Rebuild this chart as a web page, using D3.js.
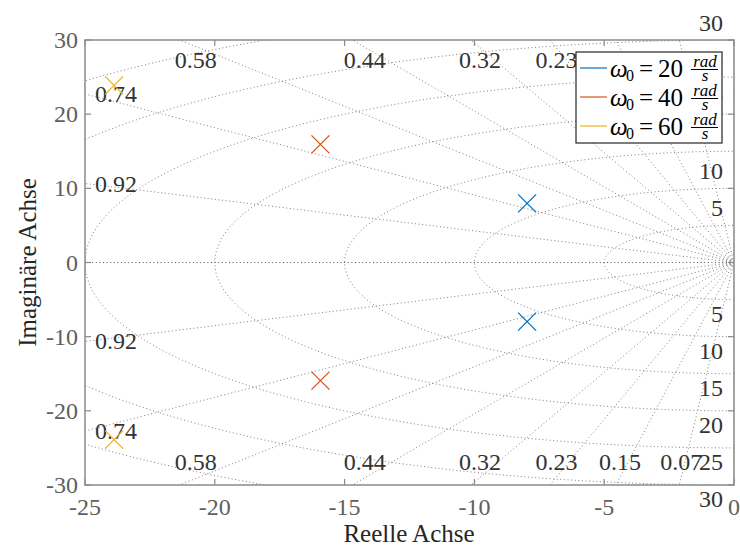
<!DOCTYPE html>
<html><head><meta charset="utf-8">
<script src="https://cdn.jsdelivr.net/npm/d3@7"></script>
<style>
body{margin:0;background:#fff}
svg{display:block}
text{font-family:"Liberation Serif","Times New Roman",serif}
</style>
</head><body>
<svg id="chart" width="740" height="547"></svg>
<script>
// Pole locations for three natural frequencies
const seriesNames = ["20", "40", "60"];
const seriesColors = ["#0072BD", "#D95319", "#EDB120"];
const poleReal = [-7.97, -15.93, -23.88];
const poleImag = [7.97, 15.93, 23.88];

// Axis ticks
const xTicks = [-25, -20, -15, -10, -5, 0];
const yTicks = [-30, -20, -10, 0, 10, 20, 30];

// s-plane grid: damping rays and natural-frequency circles
const zetaValues = [0.07, 0.15, 0.23, 0.32, 0.44, 0.58, 0.74, 0.92];
const zetaLabels = ["0.07", "0.15", "0.23", "0.32", "0.44", "0.58", "0.74", "0.92"];
const wnValues = [5, 10, 15, 20, 25, 30, 35, 40];
const wnLabels = ["5", "10", "15", "20", "25", "30"];

const svg = d3.select("#chart");
const L = 85, R = 734, T = 40, B = 485;
const x = d3.scaleLinear().domain([-25, 0]).range([L, R]);
const y = d3.scaleLinear().domain([-30, 30]).range([B, T]);

svg.append("defs").append("clipPath").attr("id", "plotclip")
  .append("rect").attr("x", L).attr("y", T).attr("width", R - L).attr("height", B - T);

const grid = svg.append("g").attr("clip-path", "url(#plotclip)");
const line = d3.line().x(d => x(d[0])).y(d => y(d[1]));
const dotted = sel => sel.attr("fill", "none").attr("stroke", "#7f7f7f")
  .attr("stroke-width", 1).attr("stroke-dasharray", "1 2.6");

// natural frequency circles (left half plane)
wnValues.forEach(wn => {
  const pts = d3.range(-90, 90.5, 1).map(a => {
    const t = a * Math.PI / 180;
    return [-wn * Math.cos(t), wn * Math.sin(t)];
  });
  grid.append("path").datum(pts).attr("d", line).call(dotted);
});

// constant damping rays
const rayLen = 80;
zetaValues.forEach(z => {
  const s = Math.sqrt(1 - z * z);
  [1, -1].forEach(sg => {
    grid.append("path").datum([[0, 0], [-rayLen * z, sg * rayLen * s]]).attr("d", line).call(dotted);
  });
});
// zeta = 1 (real axis) and zeta = 0 (imaginary axis)
grid.append("path").datum([[0, 0], [-rayLen, 0]]).attr("d", line).call(dotted).attr("stroke", "#555");
grid.append("path").datum([[0, -rayLen], [0, rayLen]]).attr("d", line).call(dotted);

// axes box
const axisColor = "#8a8a8a";
svg.append("rect").attr("x", L).attr("y", T).attr("width", R - L).attr("height", B - T)
  .attr("fill", "none").attr("stroke", axisColor).attr("stroke-width", 1.5);

const tickLen = 6;
const ticks = svg.append("g").attr("stroke", axisColor).attr("stroke-width", 1.2);
xTicks.forEach(v => {
  ticks.append("line").attr("x1", x(v)).attr("x2", x(v)).attr("y1", B).attr("y2", B - tickLen);
  ticks.append("line").attr("x1", x(v)).attr("x2", x(v)).attr("y1", T).attr("y2", T + tickLen);
});
yTicks.forEach(v => {
  ticks.append("line").attr("x1", L).attr("x2", L + tickLen).attr("y1", y(v)).attr("y2", y(v));
  ticks.append("line").attr("x1", R).attr("x2", R - tickLen).attr("y1", y(v)).attr("y2", y(v));
});

const tickColor = "#606060";
svg.append("g").selectAll("text").data(xTicks).join("text")
  .attr("x", d => x(d)).attr("y", B + 22).attr("text-anchor", "middle")
  .attr("dominant-baseline", "central").attr("font-size", 24).attr("fill", tickColor)
  .text(d => d3.format("d")(d).replace("\u2212", "-"));
svg.append("g").selectAll("text").data(yTicks).join("text")
  .attr("x", L - 7).attr("y", d => y(d)).attr("text-anchor", "end")
  .attr("dominant-baseline", "central").attr("font-size", 24).attr("fill", tickColor)
  .text(d => d3.format("d")(d).replace("\u2212", "-"));

// axis titles
svg.append("text").attr("x", 409).attr("y", 542).attr("text-anchor", "middle")
  .attr("font-size", 25).attr("fill", "#262626").text("Reelle Achse");
svg.append("text").attr("transform", `translate(36,${(T + B) / 2}) rotate(-90)`)
  .attr("text-anchor", "middle").attr("font-size", 25).attr("fill", "#262626").text("Imaginäre Achse");

// grid labels
const labelColor = "#333";
const glab = svg.append("g").attr("font-size", 24).attr("fill", labelColor);
zetaValues.forEach((z, i) => {
  const slope = Math.sqrt(1 - z * z) / z;
  const imAtLeft = 25 * slope;
  [1, -1].forEach(sg => {
    if (imAtLeft <= 30) {
      glab.append("text").attr("x", x(-25) + 10).attr("y", y(sg * imAtLeft))
        .attr("dominant-baseline", "central").text(zetaLabels[i]);
    } else {
      const re = -30 / slope;
      glab.append("text").attr("x", x(re) + 28 * z)
        .attr("y", sg > 0 ? y(30) + 20 : y(-30) - 23)
        .attr("text-anchor", "middle").attr("dominant-baseline", "central").text(zetaLabels[i]);
    }
  });
});
wnLabels.forEach(lbl => {
  const wn = +lbl;
  glab.append("text").attr("x", x(0) - 11).attr("y", y(wn) - 17)
    .attr("text-anchor", "end").attr("dominant-baseline", "central").text(lbl);
  glab.append("text").attr("x", x(0) - 11).attr("y", y(-wn) + 14)
    .attr("text-anchor", "end").attr("dominant-baseline", "central").text(lbl);
});

// poles as crosses
const ms = 9;
const marks = svg.append("g").attr("clip-path", "url(#plotclip)");
seriesNames.forEach((n, i) => {
  [1, -1].forEach(sg => {
    const cx = x(poleReal[i]), cy = y(sg * poleImag[i]);
    marks.append("path")
      .attr("d", `M${cx - ms},${cy - ms}L${cx + ms},${cy + ms}M${cx - ms},${cy + ms}L${cx + ms},${cy - ms}`)
      .attr("stroke", seriesColors[i]).attr("stroke-width", 1.3).attr("fill", "none");
  });
});

// legend
const lg = svg.append("g").attr("transform", "translate(576,52)");
lg.append("rect").attr("x", 0).attr("y", 0).attr("width", 146).attr("height", 91)
  .attr("fill", "#fff").attr("stroke", "#262626").attr("stroke-width", 1.2);
seriesNames.forEach((n, i) => {
  const cy = 16 + i * 29;
  const row = lg.append("g").attr("fill", "#000");
  row.append("line").attr("x1", 4).attr("x2", 31).attr("y1", cy).attr("y2", cy)
    .attr("stroke", seriesColors[i]).attr("stroke-width", 1.2);
  row.append("text").attr("x", 34).attr("y", cy + 9).attr("font-size", 25)
    .attr("font-style", "italic").text("ω");
  row.append("text").attr("x", 50).attr("y", cy + 13).attr("font-size", 16).text("0");
  row.append("text").attr("x", 63).attr("y", cy + 9).attr("font-size", 25).text("=");
  row.append("text").attr("x", 82).attr("y", cy + 9).attr("font-size", 25).text(n);
  row.append("text").attr("x", 129).attr("y", cy - 1).attr("font-size", 17)
    .attr("font-style", "italic").attr("text-anchor", "middle").text("rad");
  row.append("line").attr("x1", 115).attr("x2", 142).attr("y1", cy + 1.5).attr("y2", cy + 1.5)
    .attr("stroke", "#000").attr("stroke-width", 1);
  row.append("text").attr("x", 129).attr("y", cy + 13).attr("font-size", 17)
    .attr("font-style", "italic").attr("text-anchor", "middle").text("s");
});
</script>
</body></html>
